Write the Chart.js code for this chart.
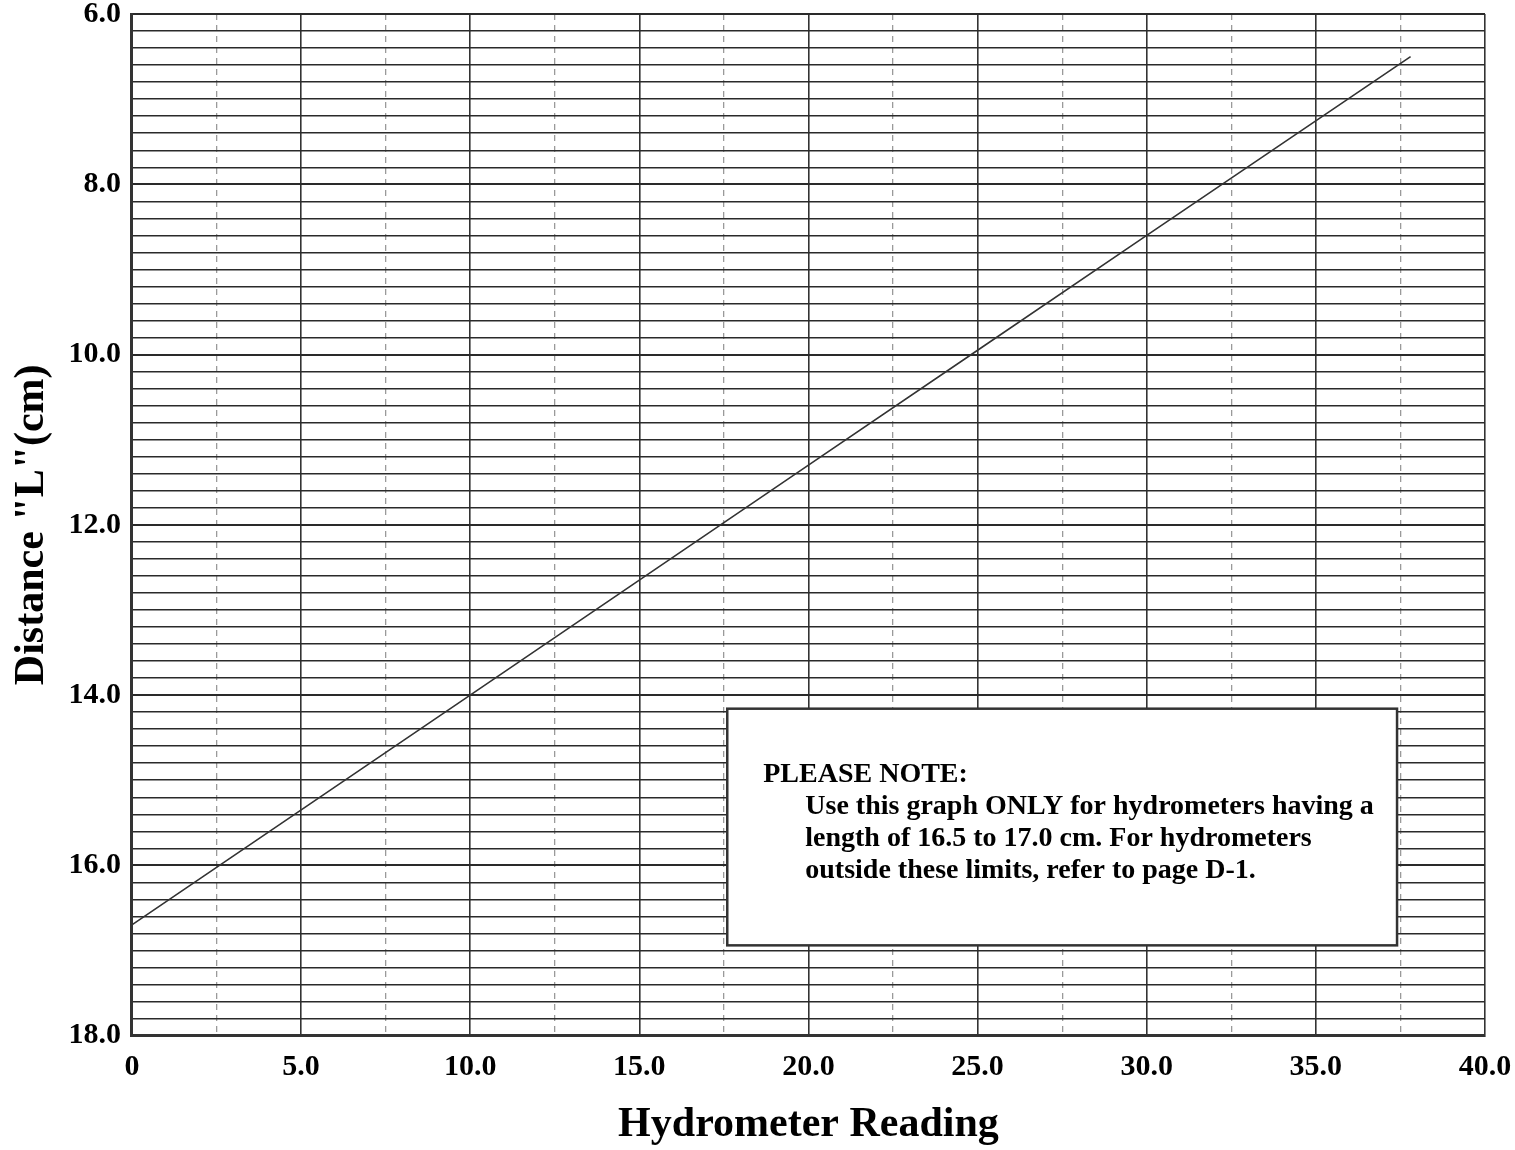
<!DOCTYPE html>
<html>
<head>
<meta charset="utf-8">
<script src="https://cdn.jsdelivr.net/npm/chart.js@4.4.1/dist/chart.umd.min.js"></script>
<style>
  html, body { margin: 0; padding: 0; background: #fff; }
  #wrap { width: 1515px; height: 1150px; }
</style>
</head>
<body>
<div id="wrap"><canvas id="chart" width="1515" height="1150"></canvas></div>
<script>
// values
const readings = [0, 10, 20, 25, 30, 37.8];
const distances = [16.7, 14.0, 11.3, 9.95, 8.6, 6.5];

const xTitle = 'Hydrometer Reading';
const yTitle = 'Distance "L"(cm)';
const noteHead = 'PLEASE NOTE:';
const noteLines = [
    'Use this graph ONLY for hydrometers having a',
    'length of 16.5 to 17.0 cm. For hydrometers',
    'outside these limits, refer to page D-1.'
];

const serif = '"Liberation Serif", "Times New Roman", serif';

function isMult(v, step) {
    const r = v / step;
    return Math.abs(r - Math.round(r)) < 1e-6;
}

// note box drawn on top of grid, placed in data units
const notePlugin = {
    id: 'note',
    afterDatasetsDraw(chart) {
        const { ctx, scales } = chart;
        const x1 = scales.x.getPixelForValue(17.6);
        const x2 = scales.x.getPixelForValue(37.4);
        const y1 = scales.y.getPixelForValue(14.16);
        const y2 = scales.y.getPixelForValue(16.94);
        ctx.save();
        ctx.fillStyle = '#fff';
        ctx.fillRect(x1, y1, x2 - x1, y2 - y1);
        ctx.strokeStyle = '#333';
        ctx.lineWidth = 2.5;
        ctx.strokeRect(x1, y1, x2 - x1, y2 - y1);
        ctx.fillStyle = '#000';
        ctx.textBaseline = 'middle';
        ctx.font = 'bold 28px ' + serif;
        ctx.fillText(noteHead, x1 + 36, y1 + 66);
        noteLines.forEach((t, i) => {
            ctx.fillText(t, x1 + 78, y1 + 98 + i * 32);
        });
        ctx.restore();
    }
};

new Chart(document.getElementById('chart'), {
    type: 'scatter',
    data: {
        datasets: [{
            data: readings.map((r, i) => ({ x: r, y: distances[i] })),
            showLine: true,
            borderColor: '#333',
            borderWidth: 1.6,
            pointRadius: 0,
            tension: 0
        }]
    },
    options: {
        responsive: false,
        animation: false,
        layout: { padding: { top: 0, right: 0, left: 7, bottom: 0 } },
        plugins: {
            legend: { display: false },
            tooltip: { enabled: false }
        },
        scales: {
            x: {
                type: 'linear',
                min: 0,
                max: 40,
                afterFit: s => { s.paddingRight = 30; },
                ticks: {
                    stepSize: 5,
                    autoSkip: false,
                    maxRotation: 0,
                    padding: 17,
                    color: '#000',
                    font: { family: serif, size: 30, weight: 'bold', lineHeight: 1.0 },
                    callback: v => v === 0 ? '0' : v.toFixed(1)
                },
                grid: { color: '#333', lineWidth: 1.6, drawTicks: false },
                border: { color: '#333', width: 3 },
                title: {
                    display: true,
                    text: xTitle,
                    color: '#000',
                    padding: { top: 0, bottom: 0 },
                    font: { family: serif, size: 42, weight: 'bold' }
                }
            },
            x2: {
                type: 'linear',
                position: 'bottom',
                min: 0,
                max: 40,
                display: true,
                afterFit: s => { s.paddingRight = 30; },
                ticks: { stepSize: 2.5, display: false },
                grid: {
                    drawTicks: false,
                    color: c => isMult(c.tick.value, 5) ? 'rgba(0,0,0,0)' : '#9a9a9a',
                    lineWidth: 1.3
                },
                border: { display: false, dash: [6, 5] }
            },
            y: {
                type: 'linear',
                reverse: true,
                min: 6,
                max: 18,
                afterFit: s => { s.paddingTop = 14; },
                ticks: {
                    stepSize: 0.2,
                    autoSkip: false,
                    padding: 11,
                    color: '#000',
                    font: { family: serif, size: 30, weight: 'bold', lineHeight: 0.8 },
                    callback: v => isMult(v, 2) ? v.toFixed(1) : ''
                },
                grid: {
                    drawTicks: false,
                    color: '#2a2a2a',
                    lineWidth: c => isMult(c.tick.value, 2) ? 2 : 1.4
                },
                border: { color: '#333', width: 3 },
                title: {
                    display: true,
                    text: yTitle,
                    color: '#000',
                    padding: { top: 0, bottom: 0 },
                    font: { family: serif, size: 42, weight: 'bold' }
                }
            }
        }
    },
    plugins: [notePlugin]
});
</script>
</body>
</html>
